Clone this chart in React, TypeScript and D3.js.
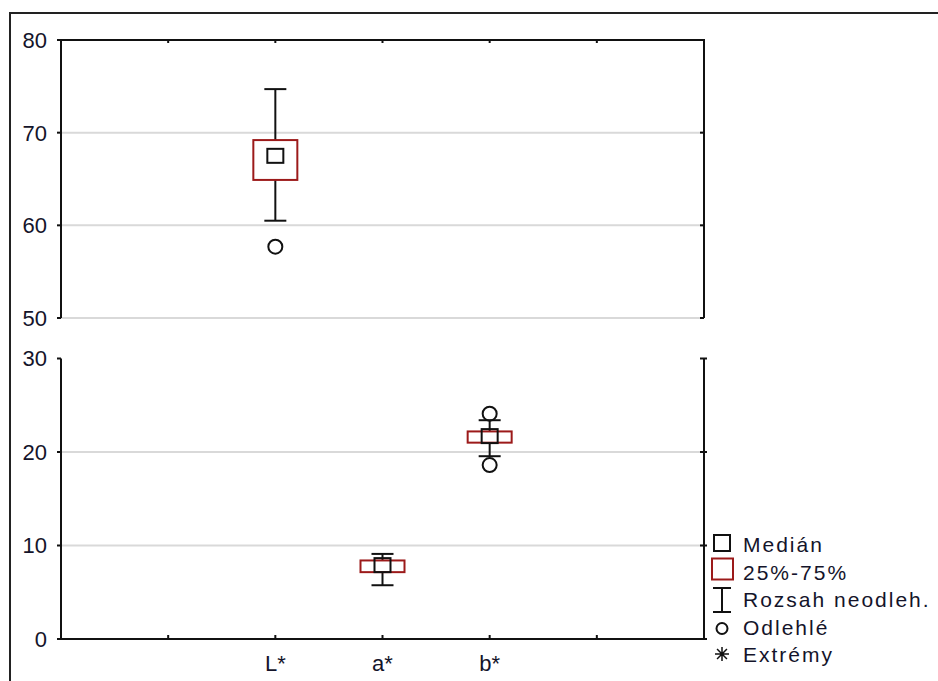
import React from "react";
import * as d3 from "d3";

// Box-plot statistics per colour coordinate
const categories = ["L*", "a*", "b*"];
const medians = [67.5, 7.9, 21.7];
const q1 = [64.9, 7.15, 21.0];
const q3 = [69.2, 8.4, 22.2];
const whiskerLow = [60.5, 5.75, 19.55];
const whiskerHigh = [74.7, 9.1, 23.4];
const outliers: number[][] = [[57.7], [], [24.1, 18.6]];

// Scale-break panels: upper range and lower range
const upperTicks = [50, 60, 70, 80];
const lowerTicks = [0, 10, 20, 30];
const upperDomain: [number, number] = [50, 80];
const lowerDomain: [number, number] = [0, 30];

const legendItems = ["Medián", "25%-75%", "Rozsah neodleh.", "Odlehlé", "Extrémy"];

const W = 938;
const H = 681;
const left = 61;
const right = 704;
const FONT = "'Liberation Sans', Arial, sans-serif";
const TEXT = "#14142a";
const BOX_RED = "#9c1a1a";
const GRID = "#d9d9d9";

export default function App() {
  // slots 0..6; categories sit at slots 2,3,4; tick marks at 1..5
  const x = d3.scaleLinear().domain([0, 6]).range([left, right]);
  const slotTicks = [1, 2, 3, 4, 5];
  const yUp = d3.scaleLinear().domain(upperDomain).range([318, 40]);
  const yLo = d3.scaleLinear().domain(lowerDomain).range([639, 358.5]);

  const inUpper = (v: number) => v >= upperDomain[0];
  const yOf = (v: number) => (inUpper(v) ? yUp(v) : yLo(v));

  const boxW = 44;
  const capW = 22;
  const medW = 16;
  const outR = 7;

  const asterisk = (cx: number, cy: number, r: number) => {
    const parts: string[] = [];
    for (let i = 0; i < 4; i++) {
      const a = (i * Math.PI) / 4;
      const dx = Math.cos(a) * r;
      const dy = Math.sin(a) * r;
      parts.push(`M${cx - dx},${cy - dy}L${cx + dx},${cy + dy}`);
    }
    return parts.join("");
  };

  const legendX = 722;
  const legendBase = 552;
  const legendStep = 27.5;

  return (
    <svg
      width={W}
      height={H}
      style={{ position: "absolute", left: 0, top: 0, background: "#fff" }}
      fontFamily={FONT}
    >
      <rect x={0} y={0} width={W} height={H} fill="#fff" />
      {/* outer frame */}
      <path d={`M10,${H}V13H${W}`} fill="none" stroke="#222" strokeWidth={2} />

      {/* gridlines */}
      {upperTicks
        .filter((t) => t < upperDomain[1])
        .map((t) => (
          <line key={"gu" + t} x1={left} x2={right} y1={yUp(t)} y2={yUp(t)} stroke={GRID} strokeWidth={2} />
        ))}
      {lowerTicks
        .filter((t) => t > lowerDomain[0] && t < lowerDomain[1])
        .map((t) => (
          <line key={"gl" + t} x1={left} x2={right} y1={yLo(t)} y2={yLo(t)} stroke={GRID} strokeWidth={2} />
        ))}

      {/* upper panel frame: top, left, right */}
      <path
        d={`M${left},${yUp(50)}V${yUp(80)}H${right}V${yUp(50)}`}
        fill="none"
        stroke="#111"
        strokeWidth={2}
      />
      {/* lower panel frame: left, bottom, right */}
      <path
        d={`M${left},${yLo(30)}V${yLo(0)}H${right}V${yLo(30)}`}
        fill="none"
        stroke="#111"
        strokeWidth={2}
      />

      {/* x ticks on top of upper panel and bottom of lower panel */}
      {slotTicks.map((s) => (
        <g key={"xt" + s}>
          <line x1={x(s)} x2={x(s)} y1={yUp(80)} y2={yUp(80) + 3} stroke="#111" strokeWidth={2} />
          <line x1={x(s)} x2={x(s)} y1={yLo(0)} y2={yLo(0) - 4} stroke="#111" strokeWidth={2} />
        </g>
      ))}

      {/* y ticks and labels */}
      {upperTicks.map((t) => (
        <g key={"yu" + t}>
          <line x1={left - 4} x2={left} y1={yUp(t)} y2={yUp(t)} stroke="#111" strokeWidth={2} />
          <line x1={right - 4} x2={right} y1={yUp(t)} y2={yUp(t)} stroke="#111" strokeWidth={2} />
          <text x={47} y={yUp(t)} dy="0.36em" textAnchor="end" fontSize={22} fill={TEXT}>
            {t}
          </text>
        </g>
      ))}
      {lowerTicks.map((t) => (
        <g key={"yl" + t}>
          <line x1={left - 4} x2={left} y1={yLo(t)} y2={yLo(t)} stroke="#111" strokeWidth={2} />
          <line x1={right - 4} x2={right + 3} y1={yLo(t)} y2={yLo(t)} stroke="#111" strokeWidth={2} />
          <text x={47} y={yLo(t)} dy="0.36em" textAnchor="end" fontSize={22} fill={TEXT}>
            {t}
          </text>
        </g>
      ))}

      {/* category labels */}
      {categories.map((c, i) => (
        <text key={"xl" + c} x={x(i + 2)} y={671} textAnchor="middle" fontSize={22} fill={TEXT}>
          {c}
        </text>
      ))}

      {/* boxes */}
      {categories.map((c, i) => {
        const cx = x(i + 2);
        const yHi = yOf(whiskerHigh[i]);
        const yLw = yOf(whiskerLow[i]);
        const yQ3 = yOf(q3[i]);
        const yQ1 = yOf(q1[i]);
        const yMed = yOf(medians[i]);
        return (
          <g key={"box" + c}>
            <line x1={cx} x2={cx} y1={yHi} y2={yQ3} stroke="#111" strokeWidth={2} />
            <line x1={cx} x2={cx} y1={yQ1} y2={yLw} stroke="#111" strokeWidth={2} />
            <line x1={cx - capW / 2} x2={cx + capW / 2} y1={yHi} y2={yHi} stroke="#111" strokeWidth={2} />
            <line x1={cx - capW / 2} x2={cx + capW / 2} y1={yLw} y2={yLw} stroke="#111" strokeWidth={2} />
            <rect
              x={cx - boxW / 2}
              y={yQ3}
              width={boxW}
              height={yQ1 - yQ3}
              fill="none"
              stroke={BOX_RED}
              strokeWidth={2}
            />
            <rect
              x={cx - medW / 2}
              y={yMed - medW / 2 + 1}
              width={medW}
              height={medW - 2}
              fill="none"
              stroke="#111"
              strokeWidth={2}
            />
            {outliers[i].map((v, k) => (
              <circle key={k} cx={cx} cy={yOf(v)} r={outR} fill="none" stroke="#111" strokeWidth={2} />
            ))}
          </g>
        );
      })}

      {/* legend */}
      <g>
        <rect x={legendX - 8} y={legendBase - 17} width={16} height={16} fill="none" stroke="#111" strokeWidth={2} />
        <rect
          x={legendX - 10}
          y={legendBase + legendStep - 21}
          width={21}
          height={21}
          fill="none"
          stroke={BOX_RED}
          strokeWidth={2}
        />
        {(() => {
          const top = legendBase + 2 * legendStep - 19;
          const bot = legendBase + 2 * legendStep + 5;
          return (
            <path
              d={`M${legendX - 9},${top}H${legendX + 9}M${legendX},${top}V${bot}M${legendX - 9},${bot}H${legendX + 9}`}
              fill="none"
              stroke="#111"
              strokeWidth={2}
            />
          );
        })()}
        <circle cx={legendX} cy={legendBase + 3 * legendStep - 6} r={5.5} fill="none" stroke="#111" strokeWidth={2} />
        <path d={asterisk(legendX, legendBase + 4 * legendStep - 8, 7)} fill="none" stroke="#111" strokeWidth={1.5} />
        {legendItems.map((t, i) => (
          <text
            key={t}
            x={743}
            y={legendBase + i * legendStep}
            fontSize={21}
            letterSpacing={2}
            fill={TEXT}
          >
            {t}
          </text>
        ))}
      </g>
    </svg>
  );
}
